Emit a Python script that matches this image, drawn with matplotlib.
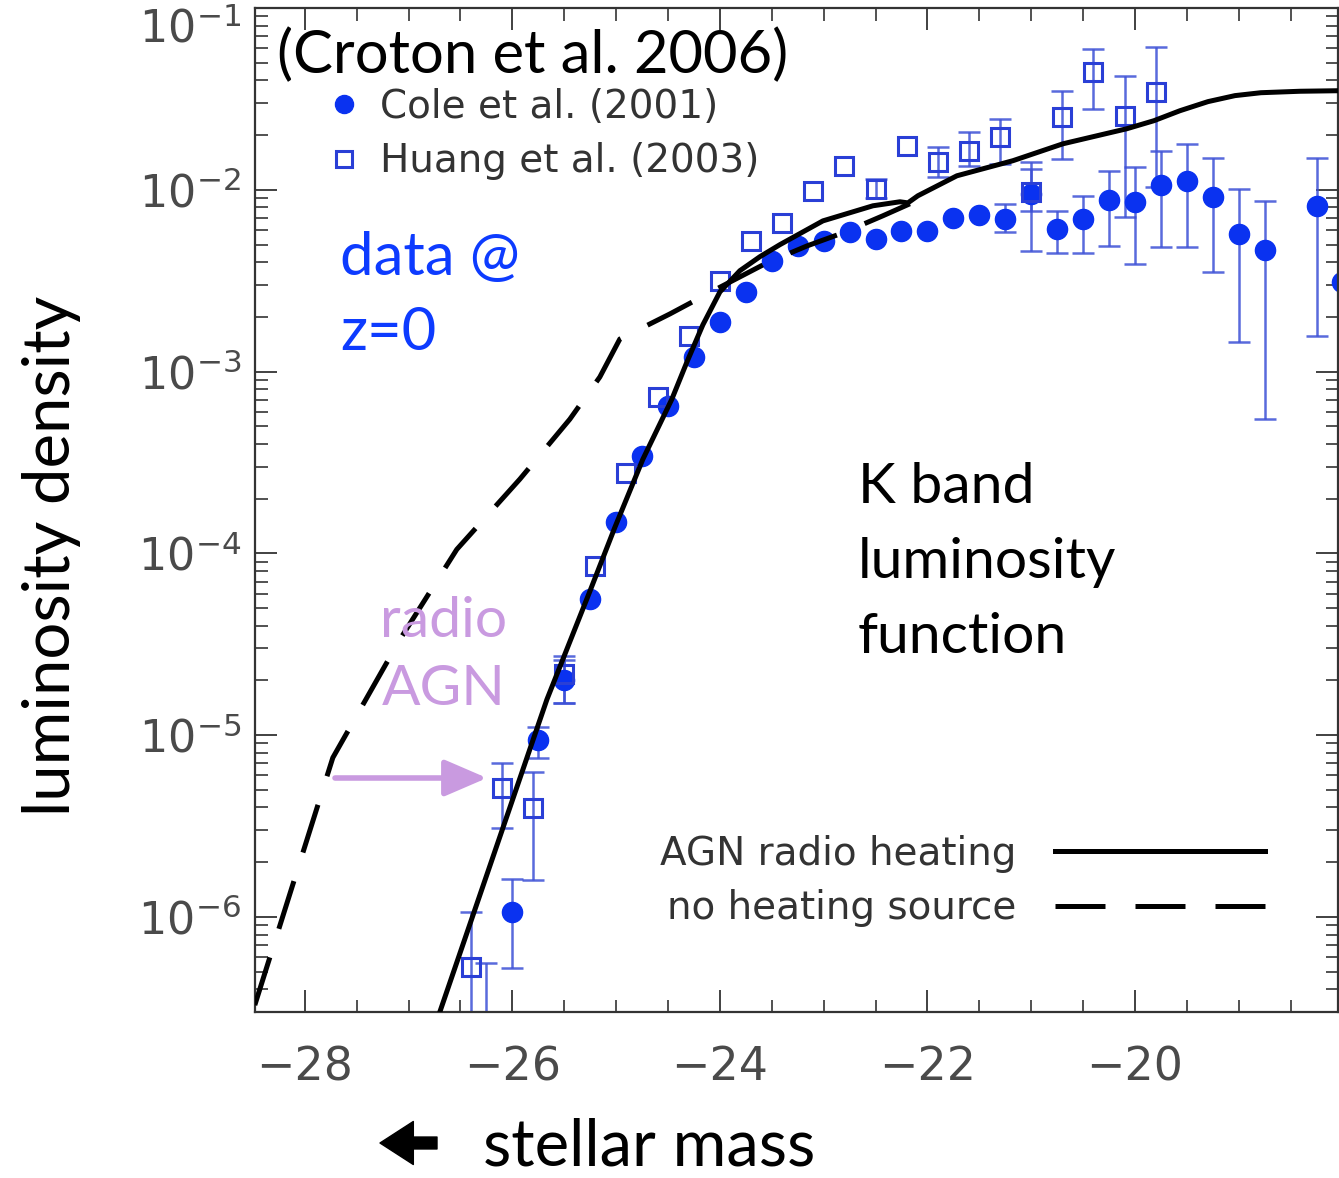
import numpy as np
import matplotlib.pyplot as plt
from matplotlib.lines import Line2D
from matplotlib.ticker import MultipleLocator, LogLocator, NullFormatter

# K-band luminosity function data (absolute magnitude vs number density)
cole_mag = [-26.25, -26.0, -25.75, -25.5, -25.25, -25.0, -24.75, -24.5, -24.25, -24.0,
            -23.75, -23.5, -23.25, -23.0, -22.75, -22.5, -22.25, -22.0, -21.75, -21.5,
            -21.25, -21.0, -20.75, -20.5, -20.25, -20.0, -19.75, -19.5, -19.25, -19.0,
            -18.75, -18.25, -18.0]
cole_phi = [2.0e-7, 1.07e-6, 9.4e-6, 2.02e-5, 5.6e-5, 1.48e-4, 3.44e-4, 6.5e-4, 1.2e-3, 1.88e-3,
            2.73e-3, 4.07e-3, 4.93e-3, 5.26e-3, 5.85e-3, 5.37e-3, 5.97e-3, 5.97e-3, 6.98e-3, 7.28e-3,
            6.92e-3, 9.5e-3, 6.1e-3, 6.92e-3, 8.84e-3, 8.59e-3, 1.06e-2, 1.12e-2, 9.15e-3, 5.73e-3,
            4.64e-3, 8.19e-3, 3.11e-3]
cole_lo = [1.0e-7, 5.25e-7, 7.5e-6, 1.51e-5, 5.6e-5, 1.48e-4, 3.44e-4, 6.5e-4, 1.2e-3, 1.88e-3,
           2.73e-3, 4.07e-3, 4.93e-3, 5.26e-3, 5.85e-3, 5.37e-3, 5.97e-3, 5.97e-3, 6.98e-3, 7.28e-3,
           5.87e-3, 4.61e-3, 4.5e-3, 4.5e-3, 4.91e-3, 3.91e-3, 4.85e-3, 4.85e-3, 3.53e-3, 1.46e-3,
           5.47e-4, 1.57e-3, 3.11e-3]
cole_hi = [5.6e-7, 1.62e-6, 1.11e-5, 2.6e-5, 5.6e-5, 1.48e-4, 3.44e-4, 6.5e-4, 1.2e-3, 1.88e-3,
           2.73e-3, 4.07e-3, 4.93e-3, 5.26e-3, 5.85e-3, 5.37e-3, 5.97e-3, 5.97e-3, 6.98e-3, 7.28e-3,
           8.38e-3, 1.3e-2, 7.66e-3, 9.27e-3, 1.27e-2, 1.34e-2, 1.64e-2, 1.79e-2, 1.5e-2, 1.01e-2,
           8.7e-3, 1.5e-2, 3.11e-3]

huang_mag = [-26.4, -26.1, -25.8, -25.5, -25.2, -24.9, -24.6, -24.3, -24.0, -23.7, -23.4, -23.1,
             -22.8, -22.5, -22.2, -21.9, -21.6, -21.3, -21.0, -20.7, -20.4, -20.1, -19.8]
huang_phi = [5.32e-7, 5.12e-6, 3.97e-6, 2.18e-5, 8.48e-5, 2.76e-4, 7.21e-4, 1.57e-3, 3.13e-3,
             5.26e-3, 6.58e-3, 9.91e-3, 1.36e-2, 1.01e-2, 1.75e-2, 1.43e-2, 1.64e-2, 1.95e-2,
             9.75e-3, 2.52e-2, 4.42e-2, 2.56e-2, 3.47e-2]
huang_lo = [1.0e-7, 3.09e-6, 1.6e-6, 1.51e-5, 8.48e-5, 2.76e-4, 7.21e-4, 1.57e-3, 3.13e-3,
            5.26e-3, 6.58e-3, 9.91e-3, 1.36e-2, 9.0e-3, 1.75e-2, 1.18e-2, 1.35e-2, 1.39e-2,
            7.66e-3, 1.48e-2, 2.79e-2, 7.1e-3, 1.04e-2]
huang_hi = [1.07e-6, 7.05e-6, 6.27e-6, 2.71e-5, 8.48e-5, 2.76e-4, 7.21e-4, 1.57e-3, 3.13e-3,
            5.26e-3, 6.58e-3, 9.91e-3, 1.36e-2, 1.14e-2, 1.75e-2, 1.73e-2, 2.09e-2, 2.46e-2,
            1.43e-2, 3.51e-2, 5.98e-2, 4.25e-2, 6.14e-2]

# model curves, log10(phi)
agn_mag = [-26.699, -25.667, -25.253, -25.012, -24.742, -24.463, -24.318, -24.164, -24.0,
           -23.807, -23.614, -23.422, -23.007, -22.525, -22.265, -22.188, -22.092, -21.716,
           -21.176, -20.694, -20.077, -19.817, -19.566, -19.296, -19.036, -18.786, -18.41,
           -18.034]
agn_logphi = [-6.523, -4.804, -4.209, -3.857, -3.482, -3.152, -2.948, -2.743, -2.562,
              -2.445, -2.368, -2.302, -2.171, -2.088, -2.066, -2.072, -2.033, -1.923,
              -1.840, -1.747, -1.664, -1.620, -1.565, -1.515, -1.482, -1.466, -1.458,
              -1.455]
noheat_mag = [-28.482, -27.730, -27.084, -26.535, -25.928, -25.446, -25.157, -24.964, -24.482,
              -24.029, -23.547, -23.161, -22.814, -22.429, -22.169]
noheat_logphi = [-6.485, -5.124, -4.474, -3.978, -3.592, -3.262, -3.030, -2.821, -2.683,
                 -2.545, -2.402, -2.309, -2.237, -2.143, -2.077]

W, H = 1339, 1178
BLUE = '#0a32f0'
SQ_BLUE = '#2a3fd6'
ERR_BLUE = '#3c50d6'
LAVENDER = '#c99ae0'
LABEL_FONT = ['Lato', 'DejaVu Sans']

fig = plt.figure(figsize=(W / 100, H / 100), dpi=100)
ax = fig.add_axes([255 / W, 1 - 1012 / H, (1338 - 255) / W, (1012 - 8) / H])


def draw_points(mag, phi, lo, hi, **kw):
    mag, phi, lo, hi = map(np.asarray, (mag, phi, lo, hi))
    has_err = hi > lo
    ax.errorbar(mag[has_err], phi[has_err],
                yerr=[phi[has_err] - lo[has_err], hi[has_err] - phi[has_err]],
                fmt='none', ecolor=ERR_BLUE, elinewidth=1.8, capsize=8, capthick=1.8,
                alpha=0.85, zorder=2)
    ax.plot(mag, phi, ls='none', zorder=2.5, **kw)


draw_points(cole_mag, cole_phi, cole_lo, cole_hi, marker='o', ms=14.5, color=BLUE)
draw_points(huang_mag, huang_phi, huang_lo, huang_hi, marker='s', ms=13.5,
            mfc='none', mec=SQ_BLUE, mew=2.2)

ax.plot(agn_mag, 10 ** np.array(agn_logphi), color='black', lw=3.6, zorder=3,
        solid_joinstyle='round')
ax.plot(noheat_mag, 10 ** np.array(noheat_logphi), color='black', lw=3.6,
        dashes=(10, 6), zorder=3)

ax.set_yscale('log')
ax.set_xlim(-28.48, -18.043)
ax.set_ylim(3.0e-7, 0.1)
ax.xaxis.set_major_locator(MultipleLocator(2))
ax.xaxis.set_minor_locator(MultipleLocator(0.5))
ax.yaxis.set_major_locator(LogLocator(base=10, numticks=20))
ax.yaxis.set_minor_locator(LogLocator(base=10, subs=np.arange(2, 10), numticks=20))
ax.yaxis.set_minor_formatter(NullFormatter())

ax.tick_params(which='both', direction='in', top=True, right=True, color='#333333',
               labelcolor='#4a4a4a')
ax.tick_params(which='major', length=16, width=1.3)
ax.tick_params(which='minor', length=9, width=1.2)
ax.tick_params(axis='x', which='major', labelsize=33, pad=24)
ax.tick_params(axis='y', which='major', labelsize=32, pad=10)
for sp in ax.spines.values():
    sp.set_color('#333333')
    sp.set_linewidth(1.6)

# legends
leg1 = ax.legend([Line2D([], [], ls='none', marker='o', ms=13, color=BLUE),
                  Line2D([], [], ls='none', marker='s', ms=11, mfc='none', mec=SQ_BLUE, mew=2.2)],
                 ['Cole et al. (2001)', 'Huang et al. (2003)'],
                 loc='upper left', bbox_to_anchor=(326 / W, 1 - 88 / H),
                 bbox_transform=fig.transFigure, frameon=False, fontsize=28,
                 handlelength=0.9, handletextpad=0.5, labelspacing=0.42,
                 borderpad=0, borderaxespad=0, labelcolor='#333333')
ax.add_artist(leg1)
ax.legend([Line2D([], [], color='black', lw=3.6),
           Line2D([], [], color='black', lw=3.6, dashes=(10, 6))],
          ['AGN radio heating', 'no heating source'],
          loc='upper right', bbox_to_anchor=(1265 / W, 1 - 835 / H),
          bbox_transform=fig.transFigure, frameon=False, fontsize=28,
          handlelength=5.4, handletextpad=1.0, labelspacing=0.42, markerfirst=False,
          borderpad=0, borderaxespad=0, labelcolor='#333333')

# annotations
def ftext(x, y, s, **kw):
    fig.text(x / W, 1 - y / H, s, family=LABEL_FONT, **kw)


ftext(277, 55, '(Croton et al. 2006)', fontsize=43, va='center', color='black')
ftext(340, 275, 'data @', fontsize=43, va='baseline', color='#0d3bff')
ftext(340, 350, 'z=0', fontsize=43, va='baseline', color='#0d3bff')
ftext(858, 503, 'K band', fontsize=41, va='baseline', color='black')
ftext(858, 578, 'luminosity', fontsize=41, va='baseline', color='black')
ftext(858, 653, 'function', fontsize=41, va='baseline', color='black')
ftext(444, 637, 'radio', fontsize=41, va='baseline', ha='center', color=LAVENDER)
ftext(444, 705, 'AGN', fontsize=41, va='baseline', ha='center', color=LAVENDER)
ftext(52, 556, 'luminosity density', fontsize=47, rotation=90, va='center', ha='center',
      color='black')
ftext(483, 1165, 'stellar mass', fontsize=47, va='baseline', color='black')

fig.add_artist(plt.Annotation('', xy=(487 / W, 1 - 778 / H), xytext=(335 / W, 1 - 778 / H),
                              xycoords='figure fraction', textcoords='figure fraction',
                              arrowprops=dict(arrowstyle='-|>,head_length=0.65,head_width=0.28',
                                              color=LAVENDER, lw=4, mutation_scale=40,
                                              shrinkA=0, shrinkB=0)))
fig.add_artist(plt.Annotation('', xy=(380 / W, 1 - 1143 / H), xytext=(437 / W, 1 - 1143 / H),
                              xycoords='figure fraction', textcoords='figure fraction',
                              arrowprops=dict(arrowstyle='simple,head_length=2.4,head_width=3.1,tail_width=0.86',
                                              color='black', mutation_scale=10,
                                              shrinkA=0, shrinkB=0)))

# the top decade label sits just under the upper spine
fig.canvas.draw()
for tick in ax.yaxis.get_major_ticks():
    if np.isclose(tick.get_loc(), 0.1):
        tick.label1.set_verticalalignment('top')

fig.savefig('out.png', dpi=100)
